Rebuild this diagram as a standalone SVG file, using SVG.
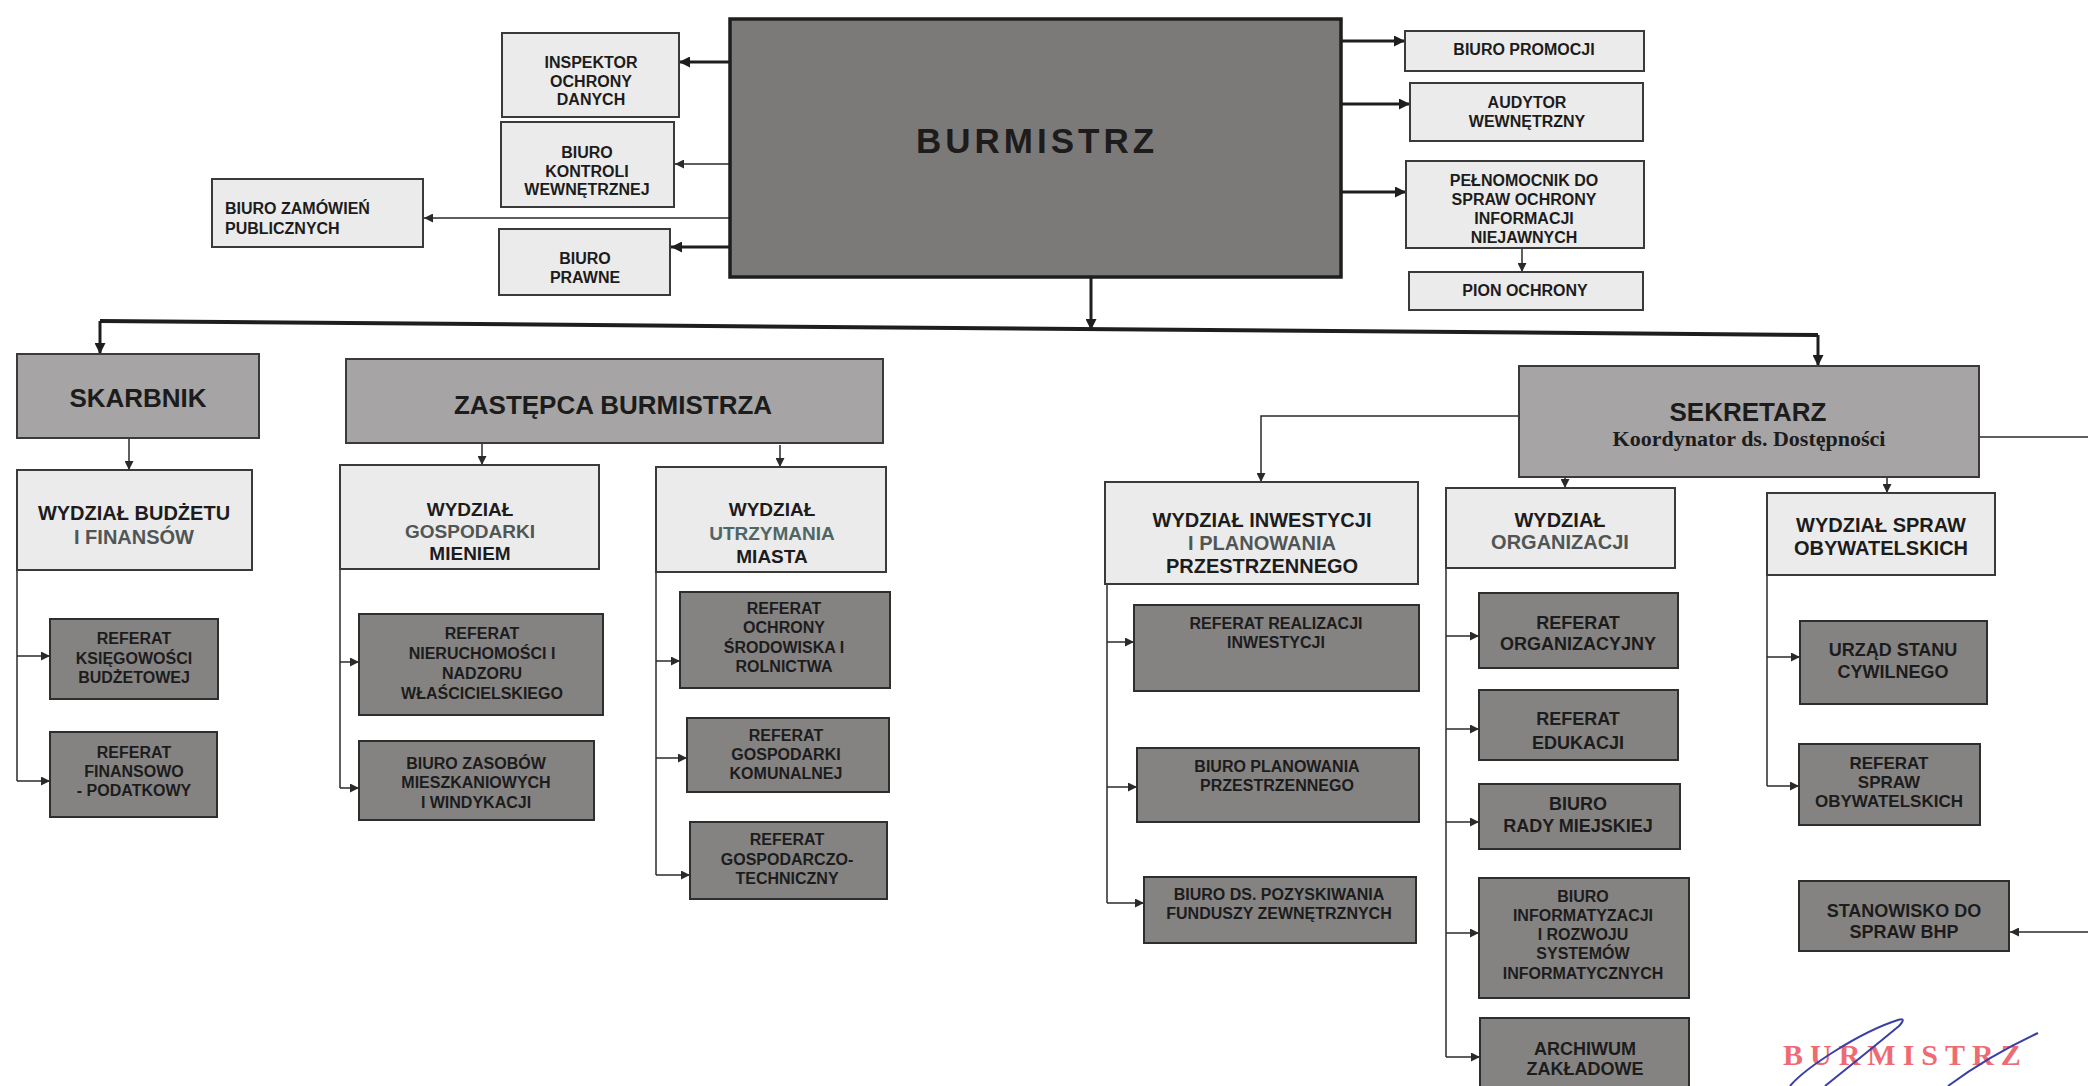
<svg xmlns="http://www.w3.org/2000/svg" width="2088" height="1086" viewBox="0 0 2088 1086">
<style>
text{font-family:"Liberation Sans",Arial,sans-serif;font-weight:bold;fill:#1c1c1c;text-anchor:middle}
.lt{fill:#ecebeb;stroke:#3a3a3a;stroke-width:2}
.mid{fill:#a6a4a4;stroke:#3a3a3a;stroke-width:2}
.dk{fill:#858282;stroke:#2e2e2e;stroke-width:2}
.top{fill:#7c7979;stroke:#1e1e1e;stroke-width:3.5}
.s16{font-size:16px}
.s17{font-size:17px}
.s18{font-size:18px}
.s20{font-size:20px}
.s26{font-size:26px}
.c{fill:none;stroke:#2a2a2a;stroke-width:1.5}
.ct{fill:none;stroke:#1e1e1e;stroke-width:3}
.ah{marker-end:url(#a)}
.aht{marker-end:url(#at)}
</style>
<defs>
<marker id="a" viewBox="0 0 10 10" refX="10" refY="5" markerUnits="userSpaceOnUse" markerWidth="10" markerHeight="9" orient="auto"><path d="M0,0 L10,5 L0,10 z" fill="#2a2a2a"/></marker>
<marker id="at" viewBox="0 0 10 10" refX="10" refY="5" markerUnits="userSpaceOnUse" markerWidth="12" markerHeight="11" orient="auto"><path d="M0,0 L10,5 L0,10 z" fill="#1e1e1e"/></marker>
</defs>
<rect width="2088" height="1086" fill="#ffffff"/>

<g id="connectors">
<path class="ct aht" d="M730,62 H679"/>
<path class="ct aht" d="M730,247 H671"/>
<path class="c ah" d="M730,164 H675"/>
<path class="c ah" d="M730,218 H424"/>
<path class="ct aht" d="M1342,41 H1405"/>
<path class="ct aht" d="M1342,104 H1410"/>
<path class="ct aht" d="M1342,192 H1406"/>
<path class="c ah" d="M1522,248 V272"/>
<path class="ct aht" d="M1091,277 V330"/>
<path fill="none" stroke="#1e1e1e" stroke-width="4" d="M100,321 L1818,335"/>
<path class="ct aht" d="M100,321 V354"/>
<path class="ct aht" d="M1818,335 V366"/>
<path class="c ah" d="M129,438 V470"/>
<path class="c ah" d="M482,443 V465"/>
<path class="c ah" d="M780,445 V467"/>
<path class="c ah" d="M1519,416 H1261 V482"/>
<path class="c ah" d="M1565,447 V488"/>
<path class="c ah" d="M1887,453 V493"/>
<path class="c" d="M1979,437 H2088"/>
<path class="c ah" d="M2088,932 H2010"/>
<path class="c" d="M17,570 V781"/>
<path class="c ah" d="M17,656 H50"/>
<path class="c ah" d="M17,781 H50"/>
<path class="c" d="M340,569 V788"/>
<path class="c ah" d="M340,662 H359"/>
<path class="c ah" d="M340,788 H359"/>
<path class="c" d="M656,572 V875"/>
<path class="c ah" d="M656,661 H680"/>
<path class="c ah" d="M656,758 H687"/>
<path class="c ah" d="M656,875 H690"/>
<path class="c" d="M1107,584 V903"/>
<path class="c ah" d="M1107,642 H1134"/>
<path class="c ah" d="M1107,787 H1137"/>
<path class="c ah" d="M1107,903 H1144"/>
<path class="c" d="M1446,568 V1057"/>
<path class="c ah" d="M1446,636 H1479"/>
<path class="c ah" d="M1446,729 H1479"/>
<path class="c ah" d="M1446,822 H1479"/>
<path class="c ah" d="M1446,933 H1479"/>
<path class="c ah" d="M1446,1057 H1480"/>
<path class="c" d="M1767,575 V786"/>
<path class="c ah" d="M1767,657 H1800"/>
<path class="c ah" d="M1767,786 H1799"/>
</g>

<g id="burmistrz"><rect class="top" x="730" y="19" width="611" height="258"/><text x="1037" y="153" style="font-size:35px;letter-spacing:4px">BURMISTRZ</text></g>

<g id="inspektor"><rect class="lt" x="502" y="33" width="177" height="84"/><text class="s16" x="591"><tspan x="591" y="68">INSPEKTOR</tspan><tspan x="591" y="87">OCHRONY</tspan><tspan x="591" y="105">DANYCH</tspan></text></g>
<g id="kontrola"><rect class="lt" x="501" y="122" width="173" height="85"/><text class="s16"><tspan x="587" y="158">BIURO</tspan><tspan x="587" y="177">KONTROLI</tspan><tspan x="587" y="195">WEWNĘTRZNEJ</tspan></text></g>
<g id="zamowienia"><rect class="lt" x="212" y="179" width="211" height="68"/><text class="s16" style="text-anchor:start"><tspan x="225" y="214">BIURO ZAMÓWIEŃ</tspan><tspan x="225" y="234">PUBLICZNYCH</tspan></text></g>
<g id="prawne"><rect class="lt" x="499" y="229" width="171" height="66"/><text class="s16"><tspan x="585" y="264">BIURO</tspan><tspan x="585" y="283">PRAWNE</tspan></text></g>

<g id="promocja"><rect class="lt" x="1405" y="31" width="239" height="40"/><text class="s16" x="1524" y="55">BIURO PROMOCJI</text></g>
<g id="audytor"><rect class="lt" x="1410" y="83" width="233" height="58"/><text class="s16"><tspan x="1527" y="108">AUDYTOR</tspan><tspan x="1527" y="127">WEWNĘTRZNY</tspan></text></g>
<g id="pelnomocnik"><rect class="lt" x="1406" y="161" width="238" height="87"/><text class="s16"><tspan x="1524" y="186">PEŁNOMOCNIK DO</tspan><tspan x="1524" y="205">SPRAW OCHRONY</tspan><tspan x="1524" y="224">INFORMACJI</tspan><tspan x="1524" y="243">NIEJAWNYCH</tspan></text></g>
<g id="pion"><rect class="lt" x="1409" y="272" width="234" height="38"/><text class="s16" x="1525" y="296">PION OCHRONY</text></g>

<g id="skarbnik"><rect class="mid" x="17" y="354" width="242" height="84"/><text class="s26" x="138" y="407">SKARBNIK</text></g>
<g id="zastepca"><rect class="mid" x="346" y="359" width="537" height="84"/><text class="s26" x="613" y="414">ZASTĘPCA BURMISTRZA</text></g>
<g id="sekretarz"><rect class="mid" x="1519" y="366" width="460" height="111"/><text class="s26" x="1748" y="421">SEKRETARZ</text><text x="1749" y="446" style="font-family:'Liberation Serif','Times New Roman',serif;font-size:22px">Koordynator ds. Dostępności</text></g>

<g id="wydzial-budzetu"><rect class="lt" x="17" y="470" width="235" height="100"/><text class="s20"><tspan x="134" y="520">WYDZIAŁ BUDŻETU</tspan><tspan x="134" y="544" fill="#505656">I FINANSÓW</tspan></text></g>
<g id="wydzial-gospodarki"><rect class="lt" x="340" y="465" width="259" height="104"/><text style="font-size:19px"><tspan x="470" y="516">WYDZIAŁ</tspan><tspan x="470" y="538" fill="#505656">GOSPODARKI</tspan><tspan x="470" y="560">MIENIEM</tspan></text></g>
<g id="wydzial-utrzymania"><rect class="lt" x="656" y="467" width="230" height="105"/><text style="font-size:19px"><tspan x="772" y="516">WYDZIAŁ</tspan><tspan x="772" y="540" fill="#4f6666">UTRZYMANIA</tspan><tspan x="772" y="563">MIASTA</tspan></text></g>
<g id="wydzial-inwestycji"><rect class="lt" x="1105" y="482" width="313" height="102"/><text class="s20"><tspan x="1262" y="527">WYDZIAŁ INWESTYCJI</tspan><tspan x="1262" y="550" fill="#505656">I PLANOWANIA</tspan><tspan x="1262" y="573">PRZESTRZENNEGO</tspan></text></g>
<g id="wydzial-organizacji"><rect class="lt" x="1446" y="488" width="229" height="80"/><text class="s20"><tspan x="1560" y="527">WYDZIAŁ</tspan><tspan x="1560" y="549" fill="#505656">ORGANIZACJI</tspan></text></g>
<g id="wydzial-spraw"><rect class="lt" x="1767" y="493" width="228" height="82"/><text class="s20"><tspan x="1881" y="532">WYDZIAŁ SPRAW</tspan><tspan x="1881" y="555">OBYWATELSKICH</tspan></text></g>

<g id="ref-ksiegowosci"><rect class="dk" x="50" y="619" width="168" height="80"/><text class="s16"><tspan x="134" y="644">REFERAT</tspan><tspan x="134" y="664">KSIĘGOWOŚCI</tspan><tspan x="134" y="683">BUDŻETOWEJ</tspan></text></g>
<g id="ref-finansowo"><rect class="dk" x="50" y="732" width="167" height="85"/><text class="s16"><tspan x="134" y="758">REFERAT</tspan><tspan x="134" y="777">FINANSOWO</tspan><tspan x="134" y="796">- PODATKOWY</tspan></text></g>
<g id="ref-nieruchomosci"><rect class="dk" x="359" y="614" width="244" height="101"/><text class="s16"><tspan x="482" y="639">REFERAT</tspan><tspan x="482" y="659">NIERUCHOMOŚCI I</tspan><tspan x="482" y="679">NADZORU</tspan><tspan x="482" y="699">WŁAŚCICIELSKIEGO</tspan></text></g>
<g id="biuro-zasobow"><rect class="dk" x="359" y="741" width="235" height="79"/><text class="s16"><tspan x="476" y="769">BIURO ZASOBÓW</tspan><tspan x="476" y="788">MIESZKANIOWYCH</tspan><tspan x="476" y="808">I WINDYKACJI</tspan></text></g>
<g id="ref-ochrony"><rect class="dk" x="680" y="592" width="210" height="96"/><text class="s16"><tspan x="784" y="614">REFERAT</tspan><tspan x="784" y="633">OCHRONY</tspan><tspan x="784" y="653">ŚRODOWISKA I</tspan><tspan x="784" y="672">ROLNICTWA</tspan></text></g>
<g id="ref-komunalnej"><rect class="dk" x="687" y="718" width="202" height="74"/><text class="s16"><tspan x="786" y="741">REFERAT</tspan><tspan x="786" y="760">GOSPODARKI</tspan><tspan x="786" y="779">KOMUNALNEJ</tspan></text></g>
<g id="ref-gosp-tech"><rect class="dk" x="690" y="822" width="197" height="77"/><text class="s16"><tspan x="787" y="845">REFERAT</tspan><tspan x="787" y="865">GOSPODARCZO-</tspan><tspan x="787" y="884">TECHNICZNY</tspan></text></g>

<g id="ref-realizacji"><rect class="dk" x="1134" y="605" width="285" height="86"/><text class="s16"><tspan x="1276" y="629">REFERAT REALIZACJI</tspan><tspan x="1276" y="648">INWESTYCJI</tspan></text></g>
<g id="biuro-planowania"><rect class="dk" x="1137" y="748" width="282" height="74"/><text class="s16"><tspan x="1277" y="772">BIURO PLANOWANIA</tspan><tspan x="1277" y="791">PRZESTRZENNEGO</tspan></text></g>
<g id="biuro-pozyskiwania"><rect class="dk" x="1144" y="877" width="272" height="66"/><text class="s16"><tspan x="1279" y="900">BIURO DS. POZYSKIWANIA</tspan><tspan x="1279" y="919">FUNDUSZY ZEWNĘTRZNYCH</tspan></text></g>

<g id="ref-organizacyjny"><rect class="dk" x="1479" y="593" width="199" height="75"/><text class="s18"><tspan x="1578" y="629">REFERAT</tspan><tspan x="1578" y="650">ORGANIZACYJNY</tspan></text></g>
<g id="ref-edukacji"><rect class="dk" x="1479" y="690" width="199" height="70"/><text class="s18"><tspan x="1578" y="725">REFERAT</tspan><tspan x="1578" y="749">EDUKACJI</tspan></text></g>
<g id="biuro-rady"><rect class="dk" x="1479" y="784" width="201" height="65"/><text class="s18"><tspan x="1578" y="810">BIURO</tspan><tspan x="1578" y="832">RADY MIEJSKIEJ</tspan></text></g>
<g id="biuro-informatyzacji"><rect class="dk" x="1479" y="878" width="210" height="120"/><text class="s16"><tspan x="1583" y="902">BIURO</tspan><tspan x="1583" y="921">INFORMATYZACJI</tspan><tspan x="1583" y="940">I ROZWOJU</tspan><tspan x="1583" y="959">SYSTEMÓW</tspan><tspan x="1583" y="979">INFORMATYCZNYCH</tspan></text></g>
<g id="archiwum"><rect class="dk" x="1480" y="1018" width="209" height="80"/><text class="s18"><tspan x="1585" y="1055">ARCHIWUM</tspan><tspan x="1585" y="1075">ZAKŁADOWE</tspan></text></g>

<g id="usc"><rect class="dk" x="1800" y="621" width="187" height="83"/><text class="s18"><tspan x="1893" y="656">URZĄD STANU</tspan><tspan x="1893" y="678">CYWILNEGO</tspan></text></g>
<g id="ref-spraw-obyw"><rect class="dk" x="1799" y="744" width="181" height="81"/><text class="s17"><tspan x="1889" y="769">REFERAT</tspan><tspan x="1889" y="788">SPRAW</tspan><tspan x="1889" y="807">OBYWATELSKICH</tspan></text></g>
<g id="bhp"><rect class="dk" x="1799" y="881" width="210" height="70"/><text class="s18"><tspan x="1904" y="917">STANOWISKO DO</tspan><tspan x="1904" y="938">SPRAW BHP</tspan></text></g>

<g id="stamp">
<text x="1783" y="1065" style="text-anchor:start;font-family:'Liberation Serif','Times New Roman',serif;font-size:30px;letter-spacing:7px;fill:#ef6b73">BURMISTRZ</text>
<path d="M1790,1086 C1805,1068 1860,1032 1898,1020 Q1907,1017 1899,1026 C1870,1050 1840,1074 1825,1086" fill="none" stroke="#3b3fa5" stroke-width="2"/>
<path d="M1948,1086 C1975,1066 2010,1046 2038,1033" fill="none" stroke="#3b3fa5" stroke-width="2"/>
</g>
</svg>
